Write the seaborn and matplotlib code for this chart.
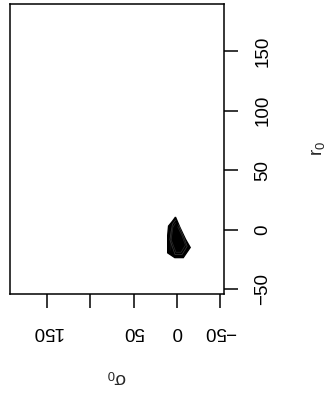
import matplotlib
matplotlib.use("Agg")
import matplotlib.pyplot as plt
import seaborn as sns

# outer contour of the likelihood surface (sigma_0, r_0)
outer_sigma0 = [1.5, 5, 9.5, 10.5, 10.5, 2.3, -7.5, -15.5, -10, -3.5, 0, 1.5]
outer_r0 = [10.5, 7, 3, -5, -19.5, -23.5, -23.5, -15, -8, 2, 8, 10.5]

# a couple of inner contours seen near the top of the blob
inner1_sigma0 = [1.5, 5, 8, 8, 2, -6, -12, -8, -2, 1.5]
inner1_r0 = [8, 4.5, 0, -17, -21, -21, -14, -6, 4, 8]
inner2_sigma0 = [1.5, 4.5, 6.5, 6.5, 1, -5, -10, -6, -1, 1.5]
inner2_r0 = [5.5, 2, -2, -15, -19, -19, -13, -5, 2.5, 5.5]

x_ticks = [150, 100, 50, 0, -50]
x_tick_labels = ["150", "", "50", "0", "\u221250"]
y_ticks = [-50, 0, 50, 100, 150]
y_tick_labels = ["\u221250", "0", "50", "100", "150"]

sns.set_theme(style="white")
plt.rcParams['font.family'] = ['Liberation Sans', 'DejaVu Sans']
plt.rcParams['mathtext.fontset'] = 'custom'
plt.rcParams['mathtext.rm'] = 'Liberation Sans'
plt.rcParams['mathtext.it'] = 'Liberation Sans'
FONT = ['Liberation Sans', 'DejaVu Sans']

fig = plt.figure(figsize=(3.28, 3.98), dpi=100)
ax = fig.add_axes([0.029, 0.261, 0.654, 0.730])

ax.fill(outer_sigma0, outer_r0, color="black", lw=1.0, edgecolor="black")
sns.lineplot(x=inner1_sigma0, y=inner1_r0, sort=False, color="#3a3a3a", lw=0.5, ax=ax)
sns.lineplot(x=inner2_sigma0, y=inner2_r0, sort=False, color="#2a2a2a", lw=0.5, ax=ax)

ax.set_xlim(193.3, -54.6)
ax.set_ylim(-54.2, 190)

for s in ax.spines.values():
    s.set_visible(True)
    s.set_color("black")
    s.set_linewidth(1.1)

ax.set_xticks(x_ticks)
ax.set_xticklabels(x_tick_labels, rotation=180, fontsize=13.5, family=FONT)
ax.set_yticks(y_ticks)
ax.set_yticklabels(y_tick_labels, rotation=90, va="center", fontsize=13.5, family=FONT)
ax.yaxis.tick_right()
ax.yaxis.set_label_position("right")
ax.tick_params(axis="both", which="both", direction="out", length=10, width=1.1,
               color="black", labelcolor="black")
ax.tick_params(axis="x", bottom=True, top=False, pad=11)
ax.tick_params(axis="y", right=True, left=False, pad=12)

ax.set_xlabel("\u03c3$_0$", rotation=180, fontsize=13.5, labelpad=20, family=FONT)
ax.set_ylabel("r$_0$", rotation=90, fontsize=13.5, labelpad=27, family=FONT)

fig.savefig("out.png", dpi=100)
